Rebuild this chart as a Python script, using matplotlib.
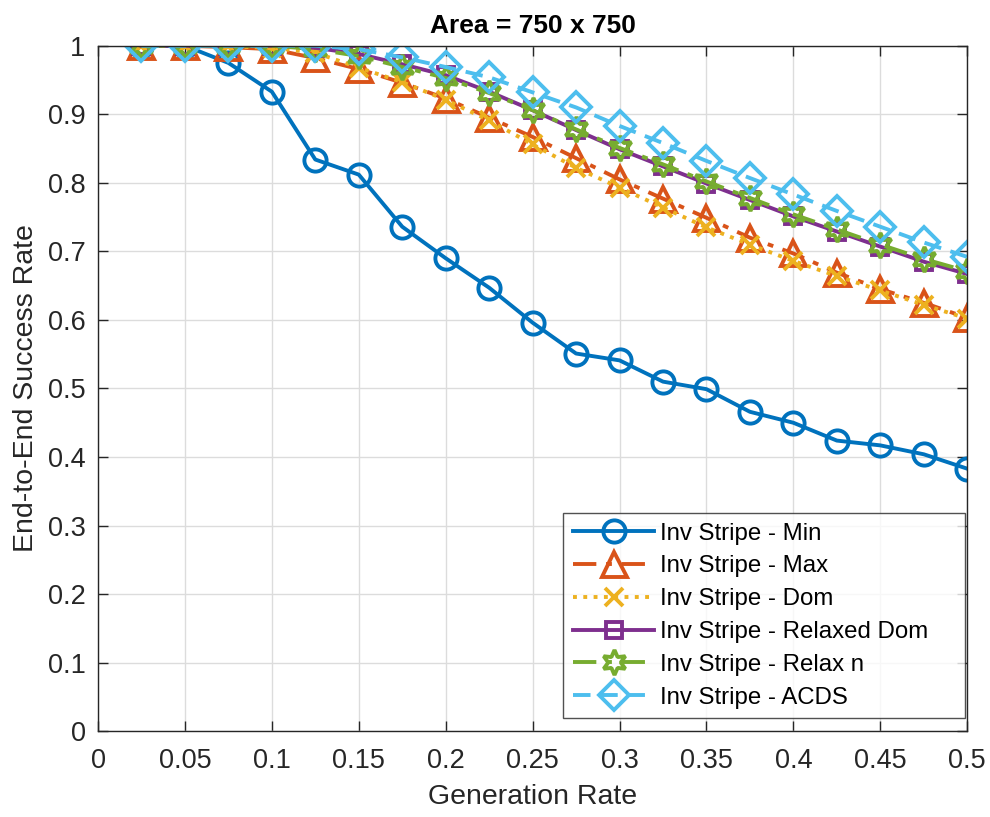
import matplotlib
matplotlib.use('Agg')
import matplotlib.pyplot as plt
import numpy as np

plt.rcParams['font.family'] = ['Liberation Sans', 'DejaVu Sans']

gen_rate = [0.025, 0.05, 0.075, 0.1, 0.125, 0.15, 0.175, 0.2, 0.225, 0.25,
            0.275, 0.3, 0.325, 0.35, 0.375, 0.4, 0.425, 0.45, 0.475, 0.5]

inv_min = [1.0, 1.0, 0.975, 0.933, 0.834, 0.812, 0.736, 0.69, 0.647, 0.596,
           0.551, 0.541, 0.51, 0.499, 0.466, 0.45, 0.424, 0.417, 0.404, 0.383]
inv_max = [1.0, 1.0, 0.998, 0.995, 0.982, 0.966, 0.946, 0.923, 0.895, 0.867,
           0.836, 0.805, 0.777, 0.749, 0.72, 0.697, 0.669, 0.645, 0.625, 0.603]
inv_dom = [1.0, 1.0, 0.999, 0.997, 0.99, 0.968, 0.947, 0.921, 0.891, 0.856,
           0.822, 0.793, 0.764, 0.735, 0.71, 0.686, 0.664, 0.643, 0.622, 0.602]
inv_relaxed_dom = [1.0, 1.0, 1.0, 1.0, 0.997, 0.988, 0.973, 0.957, 0.933, 0.906,
                   0.877, 0.849, 0.824, 0.799, 0.775, 0.751, 0.729, 0.707, 0.685, 0.667]
inv_relax_n = [1.0, 1.0, 1.0, 1.0, 0.995, 0.985, 0.969, 0.953, 0.931, 0.906,
               0.878, 0.851, 0.827, 0.802, 0.778, 0.754, 0.732, 0.71, 0.689, 0.671]
inv_acds = [1.0, 1.0, 1.0, 1.0, 1.0, 0.995, 0.983, 0.969, 0.954, 0.932,
            0.91, 0.883, 0.858, 0.832, 0.807, 0.783, 0.759, 0.736, 0.713, 0.692]

series = [inv_min, inv_max, inv_dom, inv_relaxed_dom, inv_relax_n, inv_acds]
labels = ['Inv Stripe - Min', 'Inv Stripe - Max', 'Inv Stripe - Dom',
          'Inv Stripe - Relaxed Dom', 'Inv Stripe - Relax n', 'Inv Stripe - ACDS']
colors = ['#0072BD', '#D95319', '#EDB120', '#7E2F8E', '#77AC30', '#4DBEEE']
styles = ['-', (0, (6, 2.5, 1.5, 2.5)), ':', '-', (0, (6, 2.5, 1.5, 2.5)), (0, (4.5, 2.5))]
markers = ['o', '^', 'x', 's', (6, 1, 0), 'D']
msizes = [16, 18, 13, 11, 18, 15]

fig = plt.figure(figsize=(9.9, 8.17), dpi=100)
ax = fig.add_axes([0.099, 0.105, 0.878, 0.839])

for y, lab, c, ls, mk, ms in zip(series, labels, colors, styles, markers, msizes):
    ax.plot(gen_rate, y, linestyle=ls, color=c, marker=mk, markersize=ms,
            markerfacecolor='none', markeredgecolor=c, markeredgewidth=2.8,
            linewidth=2.8, label=lab)

ax.set_xlim(0, 0.5)
ax.set_ylim(0, 1)
ax.set_xticks(np.arange(0, 0.501, 0.05))
ax.set_xticklabels(['0', '0.05', '0.1', '0.15', '0.2', '0.25', '0.3', '0.35',
                    '0.4', '0.45', '0.5'])
ax.set_yticks(np.arange(0, 1.01, 0.1))
ax.set_yticklabels(['0', '0.1', '0.2', '0.3', '0.4', '0.5', '0.6', '0.7',
                    '0.8', '0.9', '1'])
ax.tick_params(direction='in', top=True, right=True, labelsize=19.5,
               length=7, width=1, colors='#262626')
ax.tick_params(axis='x', pad=12)
ax.tick_params(axis='y', pad=9)
ax.grid(True, color='#dcdcdc', linewidth=1)
ax.set_axisbelow(True)
for sp in ax.spines.values():
    sp.set_color('#262626')
    sp.set_linewidth(1)

ax.set_xlabel('Generation Rate', fontsize=20.5, color='#262626', labelpad=7)
ax.set_ylabel('End-to-End Success Rate', fontsize=20.5, color='#262626', labelpad=6)
ax.set_title('Area = 750 x 750', fontsize=19, fontweight='bold', pad=9)

leg = ax.legend(loc='lower left', bbox_to_anchor=(0.535, 0.019, 0.4626, 0.3),
                mode='expand', fontsize=17.3, handlelength=3.4,
                frameon=True, fancybox=False, edgecolor='#262626',
                borderpad=0.4, labelspacing=0.45, handletextpad=0.25,
                borderaxespad=0.0)
leg.get_frame().set_linewidth(1)

fig.savefig('out.png', dpi=100)
